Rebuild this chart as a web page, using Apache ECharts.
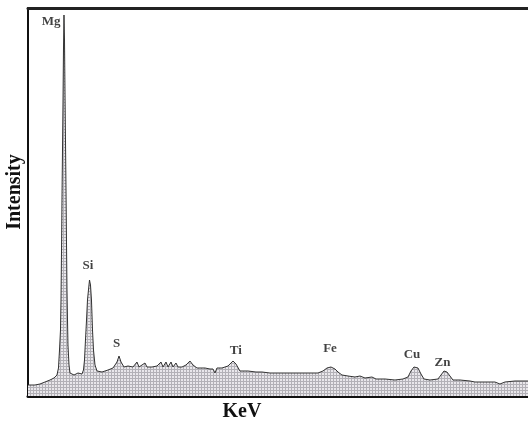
<!DOCTYPE html>
<html>
<head>
<meta charset="utf-8">
<script src="https://cdn.jsdelivr.net/npm/echarts@6/dist/echarts.min.js"></script>
<style>
    html, body { margin: 0; padding: 0; background: #fff; }
    #chart { width: 528px; height: 421px; }
</style>
</head>
<body>
<div id="chart"></div>
<script>
// energy (keV)
var energy = [
    0.553, 0.688, 0.785, 0.882, 0.979, 1.056, 1.114, 1.143, 1.163, 1.182,
    1.192, 1.202, 1.211, 1.221, 1.231, 1.240, 1.250, 1.260, 1.269, 1.279,
    1.289, 1.298, 1.308, 1.318, 1.327, 1.347, 1.366, 1.444, 1.521, 1.598,
    1.627, 1.647, 1.666, 1.686, 1.705, 1.724, 1.744, 1.763, 1.782, 1.802,
    1.821, 1.850, 1.889, 1.986, 2.102, 2.199, 2.276, 2.315, 2.354, 2.412,
    2.489, 2.586, 2.663, 2.702, 2.818, 2.857, 2.954, 3.051, 3.128, 3.167,
    3.225, 3.264, 3.322, 3.360, 3.418, 3.457, 3.535, 3.612, 3.689, 3.748,
    3.825, 3.980, 4.077, 4.135, 4.173, 4.212, 4.309, 4.425, 4.522, 4.580,
    4.657, 4.812, 4.967, 5.083, 5.238, 5.432, 5.626, 5.819, 6.168, 6.264,
    6.342, 6.419, 6.497, 6.555, 6.632, 6.749, 6.884, 6.981, 7.078, 7.213,
    7.291, 7.465, 7.659, 7.813, 7.910, 7.968, 8.026, 8.104, 8.162, 8.220,
    8.336, 8.491, 8.549, 8.607, 8.665, 8.723, 8.781, 8.917, 9.111, 9.207,
    9.401, 9.594, 9.691, 9.788, 9.982, 10.234
];
// intensity (arbitrary units)
var intensity = [
    11, 11, 12, 14, 16, 18, 21, 28, 46, 66,
    96, 146, 196, 246, 296, 346, 381, 356, 306, 256,
    206, 156, 106, 76, 51, 31, 23, 21, 23, 22,
    26, 36, 56, 76, 96, 106, 116, 111, 96, 66,
    46, 31, 25, 24, 26, 28, 34, 40, 34, 29,
    30, 29, 34, 29, 33, 29, 29, 30, 34, 29,
    34, 29, 34, 29, 33, 29, 29, 31, 35, 31,
    28, 28, 27, 27, 23, 28, 28, 30, 35, 32,
    25, 25, 24, 24, 23, 23, 23, 23, 23, 25,
    28, 29, 27, 24, 21, 20, 19, 20, 18, 19,
    17, 17, 16, 17, 19, 25, 29, 28, 22, 17,
    16, 17, 21, 25, 24, 20, 16, 16, 15, 14,
    14, 14, 12, 14, 15, 15
];
// element labels and where they sit
var elements = ['Mg', 'Si', 'S', 'Ti', 'Fe', 'Cu', 'Zn'];
var labelEnergy = [1.00, 1.715, 2.27, 4.577, 6.40, 7.987, 8.578];
var labelHeight = [374, 130, 52, 45, 47, 41, 33.5];

var xMin = 0.553, xMax = 10.234, yMax = 388;

function hatch() {
    var c = document.createElement('canvas');
    c.width = 3; c.height = 3;
    var ctx = c.getContext('2d');
    ctx.fillStyle = '#e9e7eb';
    ctx.fillRect(0, 0, 3, 3);
    ctx.fillStyle = '#b3b1b7';
    ctx.fillRect(0, 0, 1, 3);
    ctx.fillRect(0, 0, 3, 1);
    return c;
}

var spectrum = energy.map(function (e, i) { return [e, intensity[i]]; });
var labels = elements.map(function (n, i) { return [labelEnergy[i], labelHeight[i], n]; });

var chart = echarts.init(document.getElementById('chart'));
chart.setOption({
    animation: false,
    grid: { left: 28, right: 0, top: 8, bottom: 25, outerBoundsMode: 'none' },
    xAxis: [{
        type: 'value',
        min: xMin,
        max: xMax,
        name: 'KeV',
        nameLocation: 'middle',
        nameGap: 6,
        nameTextStyle: { fontFamily: 'Liberation Serif', fontWeight: 'bold', fontSize: 20, color: '#111', padding: [0, 72, 0, 0] },
        axisLine: { show: true, onZero: false, lineStyle: { color: '#111', width: 3 } },
        axisTick: { show: false },
        axisLabel: { show: false },
        splitLine: { show: false }
    }, {
        // top frame line
        type: 'value',
        position: 'top',
        min: xMin,
        max: xMax,
        axisLine: { show: true, onZero: false, lineStyle: { color: '#222', width: 3 } },
        axisTick: { show: false },
        axisLabel: { show: false },
        splitLine: { show: false }
    }],
    yAxis: {
        type: 'value',
        min: 0,
        max: yMax,
        name: 'Intensity',
        nameLocation: 'middle',
        nameGap: 3,
        nameTextStyle: { fontFamily: 'Liberation Serif', fontWeight: 'bold', fontSize: 20, color: '#111', padding: [0, 0, 0, 20] },
        axisLine: { show: true, onZero: false, lineStyle: { color: '#111', width: 2 } },
        axisTick: { show: false },
        axisLabel: { show: false },
        splitLine: { show: false }
    },
    series: [{
        type: 'line',
        data: spectrum,
        symbol: 'none',
        lineStyle: { color: '#333', width: 1 },
        areaStyle: { color: { image: hatch(), repeat: 'repeat' }, opacity: 1 },
        z: 2
    }, {
        type: 'scatter',
        data: labels,
        symbolSize: 0,
        label: {
            show: true,
            position: 'inside',
            formatter: function (p) { return p.value[2]; },
            fontFamily: 'Liberation Serif',
            fontWeight: 'bold',
            fontSize: 13,
            color: '#111'
        },
        z: 3
    }]
});
</script>
</body>
</html>
